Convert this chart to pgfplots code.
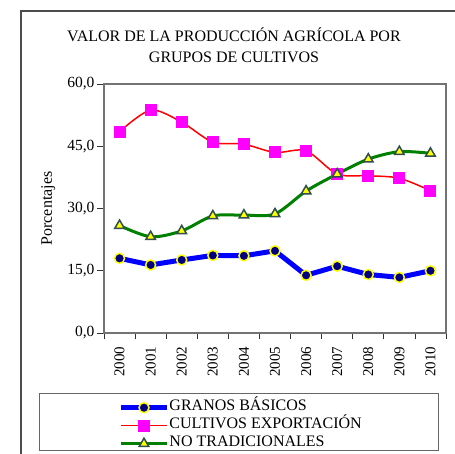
\documentclass[border=0pt]{standalone}
\usepackage{pgfplots}
\pgfplotsset{compat=1.18}
\usepackage{fontspec}
\setmainfont{Liberation Serif}
\definecolor{navyb}{RGB}{0,0,128}
\definecolor{dslate}{RGB}{47,79,79}
\definecolor{exgreen}{RGB}{0,128,0}
\definecolor{magb}{RGB}{255,0,255}
\definecolor{redb}{RGB}{255,0,0}
\definecolor{blueb}{RGB}{0,0,255}
\definecolor{yelb}{RGB}{255,255,0}
\begin{document}
\begin{tikzpicture}
\useasboundingbox (0pt,0pt) rectangle (455pt,-454pt);
\draw[line width=1.8pt, black!70] (21pt,-470pt) -- (21pt,-10.7pt) -- (470pt,-10.7pt);
\node[align=center, font=\fontsize{16}{21.5}\selectfont] at (234pt,-45.3pt) {VALOR DE LA PRODUCCIÓN AGRÍCOLA POR\\GRUPOS DE CULTIVOS};
\begin{axis}[
  at={(104pt,-333pt)}, anchor=south west,
  width=342pt, height=249pt, scale only axis,
  xmin=-0.5, xmax=10.5, ymin=0, ymax=60,
  xtick={0,...,10},
  xticklabels={2000,2001,2002,2003,2004,2005,2006,2007,2008,2009,2010},
  major x tick style={draw=none},
  minor xtick={-0.5,0.5,...,10.5},
  ytick={0,15,30,45,60},
  tick align=outside,
  major tick length=7pt, minor tick length=6pt,
  tick style={black!80, line width=0.8pt},
  xtick pos=bottom, ytick pos=left,
  axis line style={black!55, line width=1.4pt},
  /pgf/number format/.cd, fixed, fixed zerofill, precision=1, use comma, assume math mode=true,
  /pgfplots/.cd,
  xticklabel style={rotate=90, anchor=east, inner xsep=6.5pt, font=\fontsize{15}{15}\selectfont},
  yticklabel style={font=\fontsize{15.5}{15.5}\selectfont, xshift=1pt},
  ylabel={Porcentajes},
  ylabel style={at={(axis description cs:-0.163,0.5)}, anchor=center, rotate=0, font=\fontsize{16}{16}\selectfont},
  legend style={at={(axis description cs:0.033,-0.255)}, anchor=north west, draw=none, fill=none,
    font=\fontsize{16}{16}\selectfont, row sep=0pt,
    nodes={inner sep=0pt, text height=12pt, text depth=6pt}},
  legend cell align=left,
  legend image code/.code={
    \draw[#1, sharp plot] (0pt,0pt) -- (23pt,0pt) -- (46pt,0pt);
    \path[#1, sharp plot] plot coordinates {(23pt,0pt)};
  },
  clip=false,
]
\addplot[blueb, line width=5pt, mark=*, mark size=5pt,
  mark options={fill=navyb, draw=yelb, line width=1.5pt}]
coordinates {(0,18.0)(1,16.4)(2,17.6)(3,18.7)(4,18.6)(5,19.8)(6,13.9)(7,16.1)(8,14.1)(9,13.4)(10,15.0)};
\addlegendentry{GRANOS BÁSICOS}
\addplot[redb, line width=1.5pt, smooth, mark=square*, mark size=5.5pt,
  mark options={fill=magb, draw=magb, line width=0pt}]
coordinates {(0,48.5)(1,53.7)(2,50.8)(3,46.0)(4,45.5)(5,43.5)(6,43.9)(7,38.3)(8,37.9)(9,37.3)(10,34.3)};
\addlegendentry{CULTIVOS EXPORTACIÓN}
\addplot[exgreen, line width=3pt, smooth, mark=triangle*, mark size=5.5pt,
  mark options={fill=yelb, draw=dslate, line width=1.5pt}]
coordinates {(0,25.9)(1,23.2)(2,24.6)(3,28.2)(4,28.4)(5,28.7)(6,34.2)(7,38.3)(8,41.9)(9,43.7)(10,43.3)};
\addlegendentry{NO TRADICIONALES}
\end{axis}
\draw[black!60, line width=0.8pt] (39pt,-393pt) rectangle (438pt,-450pt);
\end{tikzpicture}
\end{document}
